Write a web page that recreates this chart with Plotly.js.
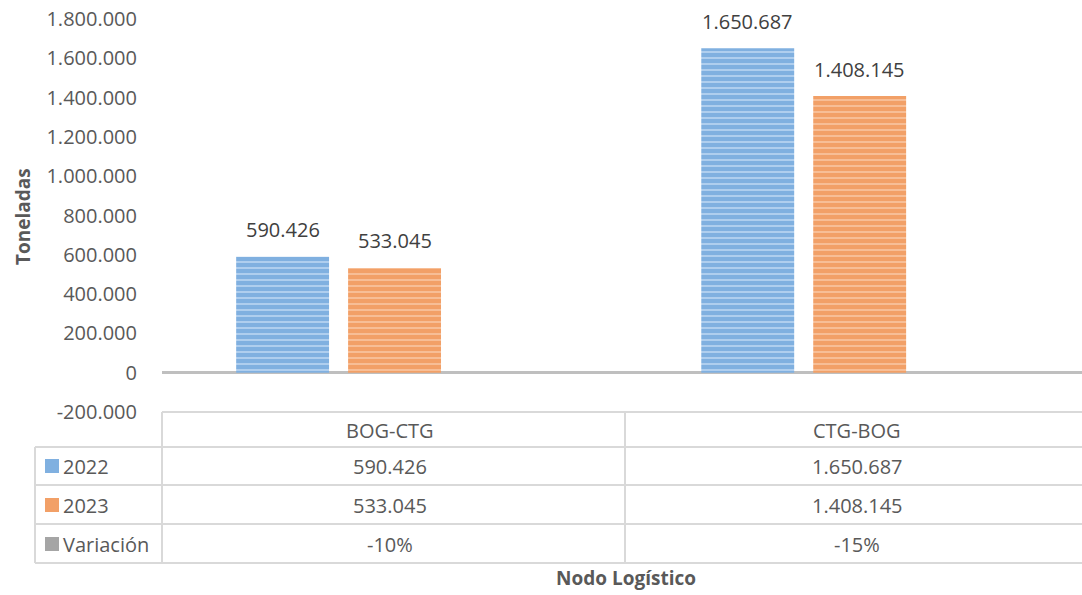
<!DOCTYPE html>
<html>
<head>
<meta charset="utf-8">
<script src="https://cdn.plot.ly/plotly-3.0.1.min.js"></script>
<style>
html,body{margin:0;padding:0;background:#fff;}
#chart{width:1082px;height:595px;}
</style>
</head>
<body>
<div id="chart"></div>
<script>
// ---- data ----
const categories = ["BOG-CTG", "CTG-BOG"];
const seriesNames = ["2022", "2023", "Variación"];
const values2022 = [590426, 1650687];
const values2023 = [533045, 1408145];
const variacion = [-0.10, -0.15];
const yTickVals = [-200000, 0, 200000, 400000, 600000, 800000, 1000000, 1200000, 1400000, 1600000, 1800000];
const xTitle = "Nodo Logístico";
const yTitle = "Toneladas";

// ---- helpers ----
function fmtNum(v) {
  const s = Math.round(Math.abs(v)).toString();
  let out = "";
  for (let i = 0; i < s.length; i++) {
    if (i > 0 && (s.length - i) % 3 === 0) out += ".";
    out += s[i];
  }
  return (v < 0 ? "-" : "") + out;
}
function fmtPct(v) { return Math.round(v * 100) + "%"; }

const W = 1082, H = 595;
const M = {l: 162, r: 0, t: 19, b: 183};
const PW = W - M.l - M.r, PH = H - M.t - M.b;
function px(x) { return (x - M.l) / PW; }
function py(y) { return (H - M.b - y) / PH; }

const txtColor = "#595959";
const font = "Open Sans, Noto Sans, sans-serif";
const blue = "#80b0e0", orange = "#f2a067", gray = "#a5a5a5";

const traces = [
  {
    type: "bar", name: seriesNames[0], x: categories, y: values2022,
    marker: {color: blue, pattern: {shape: "-", fgcolor: "#b5d2f0", bgcolor: blue, size: 6, solidity: 0.3}, line: {width: 0}}
  },
  {
    type: "bar", name: seriesNames[1], x: categories, y: values2023,
    marker: {color: orange, pattern: {shape: "-", fgcolor: "#f8c29b", bgcolor: orange, size: 6, solidity: 0.3}, line: {width: 0}}
  },
  {
    type: "bar", name: seriesNames[2], x: categories, y: variacion,
    marker: {color: gray}
  }
];

const annotations = [];
// bar value labels (data coordinates)
const slotPx = 112;
[values2022, values2023].forEach((vals, s) => {
  vals.forEach((v, i) => {
    annotations.push({
      text: fmtNum(v), xref: "x", yref: "y", x: categories[i], y: v,
      xshift: (s - 1) * slotPx, yshift: 27, showarrow: false,
      xanchor: "center", yanchor: "middle",
      font: {family: font, size: 20, color: "#404040"}
    });
  });
});

// ---- data table ----
const lc = "#d9d9d9";
const shapes = [];
function hline(x0, x1, y) {
  shapes.push({type: "line", xref: "paper", yref: "paper", x0: px(x0), x1: px(x1), y0: py(y), y1: py(y), line: {color: lc, width: 2}});
}
function vline(x, y0, y1) {
  shapes.push({type: "line", xref: "paper", yref: "paper", x0: px(x), x1: px(x), y0: py(y0), y1: py(y1), line: {color: lc, width: 2}});
}
const rowY = [412, 447, 485, 524, 563];
hline(162, 1082, rowY[0]);
for (let i = 1; i < rowY.length; i++) hline(35, 1082, rowY[i]);
vline(35, rowY[1], rowY[4]);
vline(162, rowY[0], rowY[4]);
vline(625, rowY[0], rowY[4]);

function ann(text, x, y, opts) {
  annotations.push(Object.assign({
    text: text, xref: "paper", yref: "paper", x: px(x), y: py(y),
    showarrow: false, xanchor: "center", yanchor: "middle",
    font: {family: font, size: 20, color: txtColor}
  }, opts || {}));
}
const colCenters = [390, 857];
const rowCenters = [430, 466, 505, 544];
categories.forEach((c, i) => ann(c, colCenters[i], rowCenters[0]));
values2022.forEach((v, i) => ann(fmtNum(v), colCenters[i], rowCenters[1]));
values2023.forEach((v, i) => ann(fmtNum(v), colCenters[i], rowCenters[2]));
variacion.forEach((v, i) => ann(fmtPct(v), colCenters[i], rowCenters[3]));

const legendColors = [blue, orange, gray];
seriesNames.forEach((n, i) => {
  const yc = rowCenters[i + 1];
  shapes.push({type: "rect", xref: "paper", yref: "paper", x0: px(45), x1: px(59), y0: py(yc + 7), y1: py(yc - 7),
    fillcolor: legendColors[i], line: {width: 0}});
  ann(n, 61, yc, {xanchor: "left"});
});

ann(xTitle, 626, 578, {font: {family: font, size: 19, color: txtColor, weight: "bold"}});
ann(yTitle, 23, 217, {textangle: -90, font: {family: font, size: 19, color: txtColor, weight: "bold"}});

const layout = {
  width: W, height: H,
  margin: M,
  paper_bgcolor: "#fff", plot_bgcolor: "#fff",
  showlegend: false,
  barmode: "group", bargap: 0.278, bargroupgap: 0.17,
  font: {family: font, color: txtColor},
  xaxis: {
    type: "category", range: [-0.5, 1.478], showticklabels: false, showgrid: false, showline: false, zeroline: false, ticks: ""
  },
  yaxis: {
    range: [-200000, 1800000], tickvals: yTickVals, ticktext: yTickVals.map(fmtNum),
    showgrid: false, zeroline: true, zerolinecolor: "#bfbfbf", zerolinewidth: 3, showline: false,
    ticks: "", ticklabelstandoff: 24,
    tickfont: {family: font, size: 20, color: txtColor}
  },
  shapes: shapes,
  annotations: annotations
};

Plotly.newPlot("chart", traces, layout, {displayModeBar: false, staticPlot: true});
</script>
</body>
</html>
